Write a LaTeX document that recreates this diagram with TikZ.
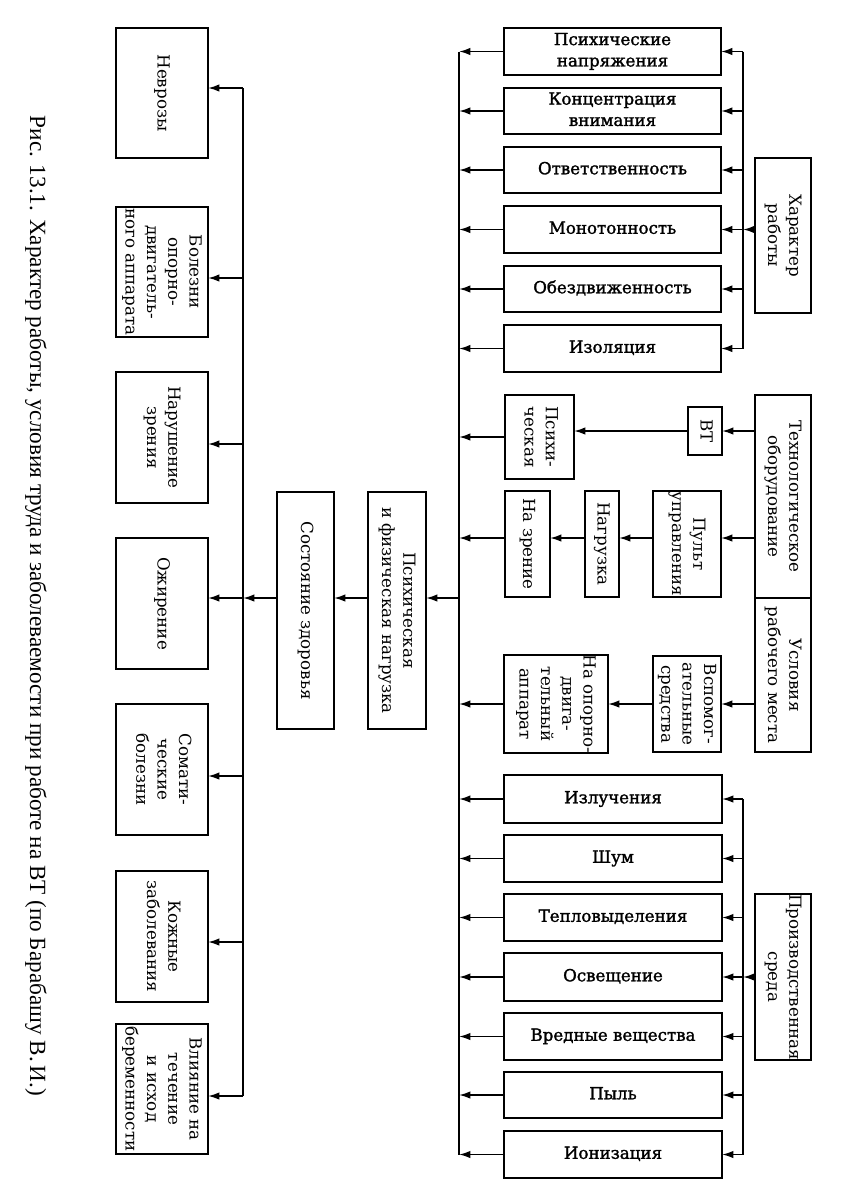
\documentclass[tikz,border=0pt]{standalone}
\usepackage{fontspec}
\setmainfont{DejaVu Serif}
\newfontfamily\hzfont{DejaVu Serif}[FakeBold=1.6]
\newfontfamily\capfont{Liberation Serif}
\usepackage{graphicx}
\usetikzlibrary{arrows.meta}
\newcommand\Rt[1]{\rotatebox{-90}{\begin{tabular}{@{}c@{}}#1\end{tabular}}}
\newcommand\Hz[1]{{\hzfont\begin{tabular}{@{}c@{}}#1\end{tabular}}}
\newcommand\Bx[6]{\node[bx, minimum width={(#4-#2)*0.75pt}, minimum height={(#5-#3)*0.75pt}] (#1) at ({(#2+#4)/2},{(#3+#5)/2}) {#6};}
\begin{document}
\begin{tikzpicture}[x=0.75pt,y=-0.75pt,
  bx/.style={draw, line width=1.3pt, inner sep=0pt, outer sep=0pt, fill=white,
    font=\fontsize{12.5pt}{16pt}\selectfont},
  hz/.style={font=\hzfont\fontsize{12.8pt}{16.5pt}\selectfont},
  ln/.style={line width=1.3pt},
  arr/.style={line width=1.3pt, -{Latex[length=8.5pt,width=5.6pt]}}]
\useasboundingbox[fill=white] (0,0) rectangle (841,1192);
% bus coordinates
\coordinate (busL) at (459,0);
\coordinate (busR) at (743,0);
\coordinate (busD) at (243,0);
\coordinate (rA) at (0,538);
\coordinate (rB) at (0,598);
\coordinate (dr1) at (0,88);
\coordinate (dr2) at (0,278);
\coordinate (dr3) at (0,444);
\coordinate (dr5) at (0,776);
\coordinate (dr6) at (0,942);
\coordinate (dr7) at (0,1096);
% work character list
\Bx{L1}{504}{28}{721}{75}{\Hz{Психические\\напряжения}}
\Bx{L2}{504}{88}{721}{134}{\Hz{Концентрация\\внимания}}
\Bx{L3}{504}{147}{721}{193}{\Hz{Ответственность}}
\Bx{L4}{504}{206}{721}{253}{\Hz{Монотонность}}
\Bx{L5}{504}{266}{721}{312}{\Hz{Обездвиженность}}
\Bx{L6}{504}{325}{721}{372}{\Hz{Изоляция}}
\Bx{Kh}{755}{158}{811}{313}{\Rt{Характер\\работы}}
% workplace
\Bx{Tech}{755}{395}{811}{598}{\Rt{Технологическое\\оборудование}}
\Bx{Usl}{755}{598}{811}{752}{\Rt{Условия\\рабочего места}}
\Bx{VT}{688}{407}{722}{455}{\Rt{ВТ}}
\Bx{Psi}{505}{395}{574}{479}{\Rt{Психи-\\ческая}}
\Bx{Pult}{653}{491}{721}{597}{\Rt{Пульт\\управления}}
\Bx{Nagr}{585}{491}{619}{597}{\Rt{Нагрузка}}
\Bx{NaZr}{505}{491}{550}{597}{\Rt{На зрение}}
\Bx{Vsp}{653}{656}{721}{752}{\Rt{Вспомог-\\ательные\\средства}}
\Bx{NaOp}{504}{656}{608}{752}{\Rt{На опорно-\\двига-\\тельный\\аппарат}}
% environment list
\Bx{E1}{504}{775}{722}{823}{\Hz{Излучения}}
\Bx{E2}{504}{835}{722}{882}{\Hz{Шум}}
\Bx{E3}{504}{894}{722}{941}{\Hz{Тепловыделения}}
\Bx{E4}{504}{953}{722}{1001}{\Hz{Освещение}}
\Bx{E5}{504}{1013}{722}{1060}{\Hz{Вредные вещества}}
\Bx{E6}{504}{1072}{722}{1118}{\Hz{Пыль}}
\Bx{E7}{504}{1131}{722}{1178}{\Hz{Ионизация}}
\Bx{Pr}{755}{894}{811}{1060}{\Rt{Производственная\\среда}}
% centre
\Bx{PFN}{368}{492}{426}{729}{\Rt{Психическая\\и физическая нагрузка}}
\Bx{Sost}{277}{492}{334}{729}{\Rt{Состояние здоровья}}
% diseases
\Bx{D1}{116}{28}{208}{158}{\Rt{Неврозы}}
\Bx{D2}{116}{207}{208}{337}{\Rt{Болезни\\опорно-\\двигатель-\\ного аппарата}}
\Bx{D3}{116}{372}{208}{503}{\Rt{Нарушение\\зрения}}
\Bx{D4}{116}{538}{208}{669}{\Rt{Ожирение}}
\Bx{D5}{116}{704}{208}{835}{\Rt{Сомати-\\ческие\\болезни}}
\Bx{D6}{116}{871}{208}{1002}{\Rt{Кожные\\заболевания}}
\Bx{D7}{116}{1024}{208}{1154}{\Rt{Влияние на\\течение\\и исход\\беременности}}
% caption
\node[font=\capfont\fontsize{17.4pt}{20pt}\selectfont, inner sep=0pt] (cap) at (36,606)
  {\rotatebox{-90}{Рис. 13.1. Характер работы, условия труда и заболеваемости при работе на ВТ (по Барабашу В.\,И.)}};
% main left bus
\draw[ln] (busL |- L1) -- (busL |- E7);
\foreach \n in {L1,L2,L3,L4,L5,L6,E1,E2,E3,E4,E5,E6,E7,Psi,NaOp}
  \draw[arr] (\n.west) -- (busL |- \n);
% right buses
\draw[ln] (busR |- L1) -- (busR |- L6);
\draw[ln] (busR |- E1) -- (busR |- E7);
\foreach \n in {L1,L2,L3,L4,L5,L6,E1,E2,E3,E4,E5,E6,E7}
  \draw[arr] (busR |- \n) -- (\n.east);
\draw[arr] (Kh.west |- L4) -- (busR |- L4);
\draw[arr] (Pr.west |- E4) -- (busR |- E4);
% workplace chains
\draw[arr] (Tech.west |- VT) -- (VT.east);
\draw[arr] (VT.west) -- (Psi.east |- VT);
\draw[arr] (Tech.west |- rA) -- (Pult.east |- rA);
\draw[arr] (Pult.west |- rA) -- (Nagr.east |- rA);
\draw[arr] (Nagr.west |- rA) -- (NaZr.east |- rA);
\draw[arr] (NaZr.west |- rA) -- (busL |- rA);
\draw[arr] (Usl.west |- Vsp) -- (Vsp.east);
\draw[arr] (Vsp.west) -- (NaOp.east |- Vsp);
% centre chain
\draw[arr] (busL |- rB) -- (PFN.east |- rB);
\draw[arr] (PFN.west |- rB) -- (Sost.east |- rB);
\draw[arr] (Sost.west |- rB) -- (busD |- rB);
% disease bus
\draw[ln] (busD |- dr1) -- (busD |- dr7);
\draw[arr] (busD |- dr1) -- (D1.east |- dr1);
\draw[arr] (busD |- dr2) -- (D2.east |- dr2);
\draw[arr] (busD |- dr3) -- (D3.east |- dr3);
\draw[arr] (busD |- rB) -- (D4.east |- rB);
\draw[arr] (busD |- dr5) -- (D5.east |- dr5);
\draw[arr] (busD |- dr6) -- (D6.east |- dr6);
\draw[arr] (busD |- dr7) -- (D7.east |- dr7);
\end{tikzpicture}
\end{document}
